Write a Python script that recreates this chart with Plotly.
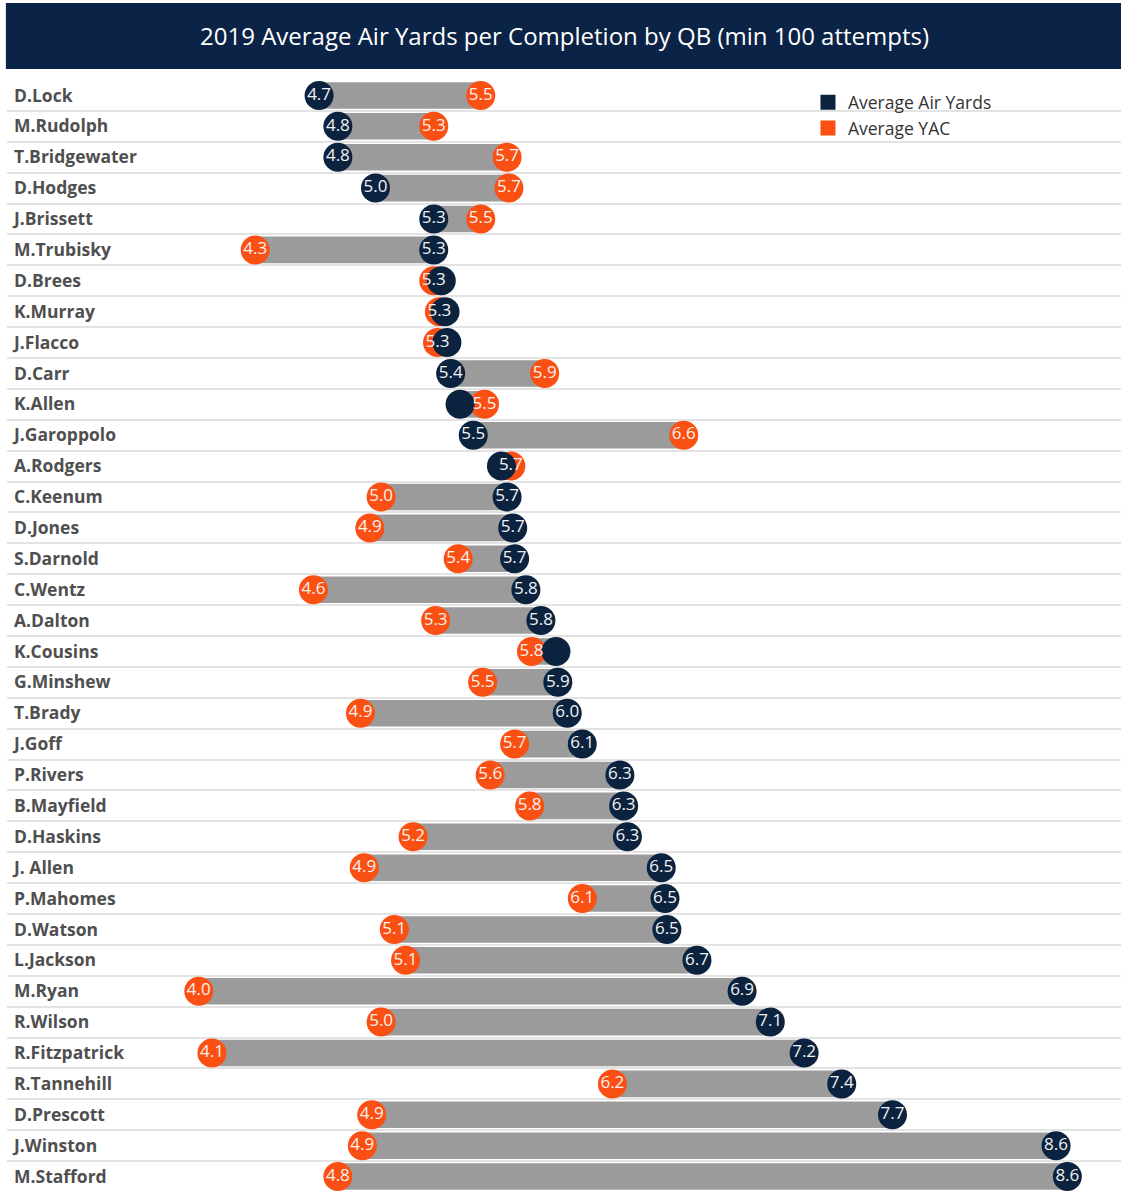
import plotly.graph_objects as go

# QB names, top to bottom
names = ["D.Lock", "M.Rudolph", "T.Bridgewater", "D.Hodges", "J.Brissett", "M.Trubisky",
         "D.Brees", "K.Murray", "J.Flacco", "D.Carr", "K.Allen", "J.Garoppolo",
         "A.Rodgers", "C.Keenum", "D.Jones", "S.Darnold", "C.Wentz", "A.Dalton",
         "K.Cousins", "G.Minshew", "T.Brady", "J.Goff", "P.Rivers", "B.Mayfield",
         "D.Haskins", "J. Allen", "P.Mahomes", "D.Watson", "L.Jackson", "M.Ryan",
         "R.Wilson", "R.Fitzpatrick", "R.Tannehill", "D.Prescott", "J.Winston", "M.Stafford"]

# average air yards per completion
air_yards = [4.66, 4.76, 4.76, 4.96, 5.27, 5.27, 5.31, 5.33, 5.34, 5.36, 5.41, 5.48,
             5.63, 5.66, 5.69, 5.70, 5.76, 5.84, 5.92, 5.93, 5.98, 6.06, 6.26, 6.28,
             6.30, 6.48, 6.50, 6.51, 6.67, 6.91, 7.06, 7.24, 7.44, 7.71, 8.58, 8.64]

# average yards after catch
yac = [5.52, 5.27, 5.66, 5.67, 5.52, 4.32, 5.27, 5.30, 5.29, 5.86, 5.54, 6.60,
       5.68, 4.99, 4.93, 5.40, 4.63, 5.28, 5.79, 5.53, 4.88, 5.70, 5.57, 5.78,
       5.16, 4.90, 6.06, 5.06, 5.12, 4.02, 4.99, 4.09, 6.22, 4.94, 4.89, 4.76]

# rows where the air yards label is hidden behind the YAC label
hidden_ay = ["D.Brees", "K.Murray", "J.Flacco", "K.Allen", "A.Rodgers", "K.Cousins"]

NAVY = "#0c2340"
ORANGE = "#fb5014"
GREY = "#9b9b9b"
FONT = "Open Sans"

ay_text = ["" if n in hidden_ay else f"{v:.1f}" for n, v in zip(names, air_yards)]
yac_text = [f"{v:.1f}" for v in yac]
lo = [min(a, b) for a, b in zip(air_yards, yac)]
span = [abs(a - b) for a, b in zip(air_yards, yac)]

fig = go.Figure()

# grey connector bars
fig.add_trace(go.Bar(
    y=names, x=span, base=lo, orientation="h",
    marker=dict(color=GREY, line=dict(width=0)),
    width=0.86, hoverinfo="skip", showlegend=False
))

# YAC circles
fig.add_trace(go.Scatter(
    x=yac, y=names, mode="markers",
    marker=dict(size=29, color=ORANGE, line=dict(width=0)),
    showlegend=False, hoverinfo="x+y"
))

# air yards circles with labels
fig.add_trace(go.Scatter(
    x=air_yards, y=names, mode="markers+text",
    marker=dict(size=29, color=NAVY, line=dict(width=0)),
    text=ay_text, textposition="middle center",
    textfont=dict(family=FONT, size=17, color="#f2f2f2"),
    showlegend=False, hoverinfo="x+y"
))

# YAC labels on top of everything
fig.add_trace(go.Scatter(
    x=yac, y=names, mode="text",
    text=yac_text, textposition="middle center",
    textfont=dict(family=FONT, size=17, color="#f7f2ee"),
    showlegend=False, hoverinfo="skip"
))

# legend entries (square swatches)
fig.add_trace(go.Scatter(x=[None], y=[None], mode="markers", name="Average Air Yards",
                         marker=dict(symbol="square", size=15, color=NAVY)))
fig.add_trace(go.Scatter(x=[None], y=[None], mode="markers", name="Average YAC",
                         marker=dict(symbol="square", size=15, color=ORANGE)))

# title band
fig.add_shape(type="rect", xref="paper", yref="paper",
              x0=-0.001, x1=1.0, y0=1.0099, y1=1.0692,
              fillcolor="#0b2346", line=dict(width=0), layer="above")
fig.add_annotation(text="2019 Average Air Yards per Completion by QB (min 100 attempts)",
                   xref="paper", yref="paper", x=0.5, y=1.0396, yanchor="middle",
                   showarrow=False, font=dict(family=FONT, size=24, color="white"))

fig.update_layout(
    width=1128, height=1200,
    margin=dict(l=7, r=7, t=80, b=8),
    paper_bgcolor="white", plot_bgcolor="white",
    bargap=0.14,
    xaxis=dict(range=[3.0, 8.9255], visible=False, fixedrange=True),
    yaxis=dict(
        type="category", range=[35.5, -0.5],
        tickson="boundaries", showgrid=True, gridcolor="#e3e3e3", gridwidth=1.5,
        ticks="", showline=False, zeroline=False,
        ticklabelposition="inside", ticklabelstandoff=4,
        tickfont=dict(family=FONT, size=17.5, color="#4f4f4f", weight="bold"),
    ),
    legend=dict(x=0.719, y=0.996, xanchor="left", yanchor="top",
                font=dict(family=FONT, size=17.5, color="#333333"),
                bgcolor="rgba(0,0,0,0)", tracegroupgap=0, itemwidth=30),
    font=dict(family=FONT),
)

fig.write_html("out.html", config={"displayModeBar": False},
               post_script="document.body.style.margin = '0';")
